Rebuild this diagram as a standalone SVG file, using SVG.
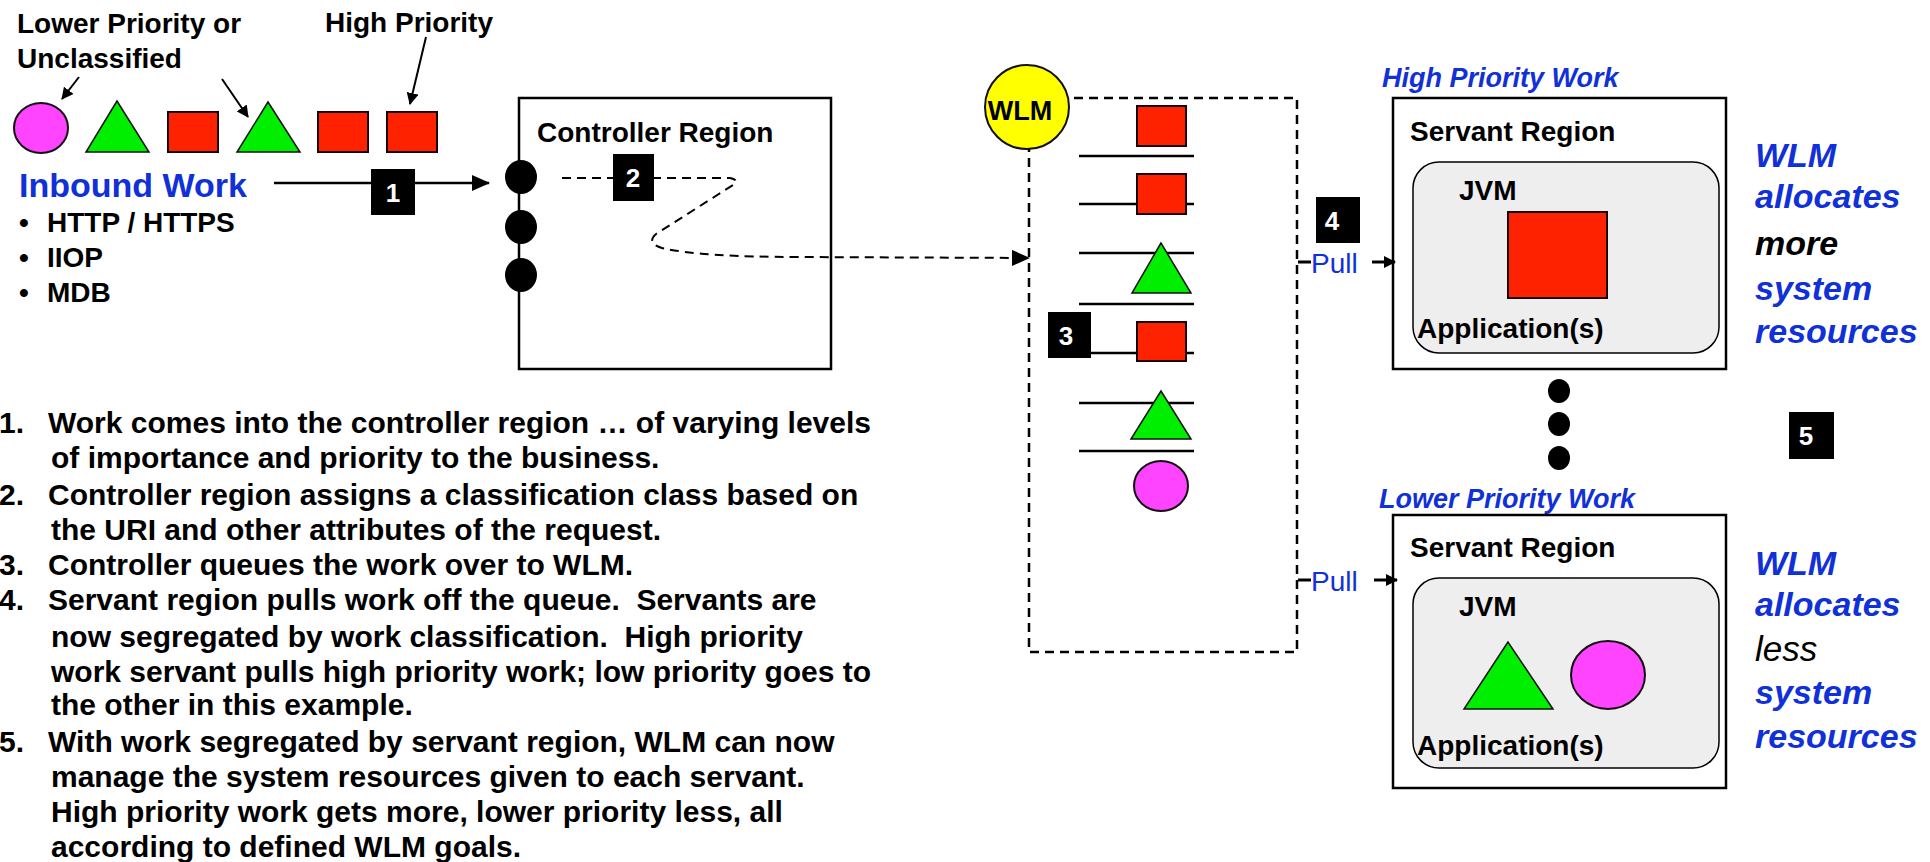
<svg xmlns="http://www.w3.org/2000/svg" width="1930" height="862" viewBox="0 0 1930 862">
  <defs>
    <marker id="arrow" viewBox="0 0 12 12" refX="11" refY="6" markerWidth="12" markerHeight="12" markerUnits="userSpaceOnUse" orient="auto">
      <path d="M0,0 L12,6 L0,12 Z" fill="#000"/>
    </marker>
    <marker id="arrowBig" viewBox="0 0 18 16" refX="17" refY="8" markerWidth="18" markerHeight="16" markerUnits="userSpaceOnUse" orient="auto">
      <path d="M0,0 L18,8 L0,16 Z" fill="#000"/>
    </marker>
  </defs>
  <style>
    text { font-family: "Liberation Sans", Arial, sans-serif; }
    .lbl { font-size: 28px; font-weight: bold; fill: #000; }
    .blue { fill: #1030d8; }
    .bi { font-size: 34px; font-weight: bold; font-style: italic; }
    .work { font-size: 27px; font-weight: bold; font-style: italic; fill: #1030d8; }
    .note { font-size: 30px; font-weight: bold; fill: #000; }
    .num { fill: #000; }
    .numtxt { font-size: 26px; font-weight: bold; fill: #fff; text-anchor: middle; }
    .red { fill: #ff2200; stroke: #1a0000; stroke-width: 2; }
    .green { fill: #00ee00; stroke: #111; stroke-width: 1.5; stroke-linejoin: miter; }
    .pink { fill: #ff44ff; stroke: #111; stroke-width: 2; }
    .box { fill: #fff; stroke: #000; stroke-width: 2.5; }
    .jvm { fill: #eeeeee; stroke: #000; stroke-width: 1.5; }
    .qline { stroke: #000; stroke-width: 2.5; }
    .dot { fill: #000; }
    .pull { font-size: 28px; fill: #1030d8; }
  </style>

  <rect x="0" y="0" width="1930" height="862" fill="#fff"/>

  <!-- inbound work legend -->
  <g id="legend">
    <text class="lbl" x="17" y="33">Lower Priority or</text>
    <text class="lbl" x="17" y="68">Unclassified</text>
    <text class="lbl" x="325" y="32">High Priority</text>
    <ellipse class="pink" cx="41" cy="128" rx="27" ry="25"/>
    <polygon class="green" points="117,101 86,152 149,152"/>
    <rect class="red" x="168" y="112" width="50" height="40"/>
    <polygon class="green" points="268,102 237,152 300,152"/>
    <rect class="red" x="318" y="112" width="50" height="40"/>
    <rect class="red" x="387" y="112" width="50" height="40"/>
    <text class="blue" x="19" y="197" font-size="34" font-weight="bold">Inbound Work</text>
    <text class="lbl" x="19" y="232" font-size="22">•</text>
    <text class="lbl" x="47" y="232">HTTP / HTTPS</text>
    <text class="lbl" x="19" y="267" font-size="22">•</text>
    <text class="lbl" x="47" y="267">IIOP</text>
    <text class="lbl" x="19" y="302" font-size="22">•</text>
    <text class="lbl" x="47" y="302">MDB</text>
  </g>

  <!-- controller region -->
  <g id="controller">
    <rect class="box" x="519" y="98" width="312" height="271"/>
    <text class="lbl" x="537" y="142">Controller Region</text>
    <ellipse class="dot" cx="521" cy="177" rx="16" ry="17"/>
    <ellipse class="dot" cx="521" cy="227" rx="16" ry="17"/>
    <ellipse class="dot" cx="521" cy="275" rx="16" ry="17"/>
  </g>

  <!-- WLM queue -->
  <g id="wlm-queue">
    <rect x="1029" y="98" width="268" height="554" fill="none" stroke="#000" stroke-width="2.5" stroke-dasharray="9 6"/>
    <line class="qline" x1="1079" y1="156" x2="1194" y2="156"/>
    <line class="qline" x1="1079" y1="204" x2="1194" y2="204"/>
    <line class="qline" x1="1079" y1="253" x2="1194" y2="253"/>
    <line class="qline" x1="1079" y1="304" x2="1194" y2="304"/>
    <line class="qline" x1="1079" y1="353" x2="1194" y2="353"/>
    <line class="qline" x1="1079" y1="403" x2="1194" y2="403"/>
    <line class="qline" x1="1079" y1="451" x2="1194" y2="451"/>
    <rect class="red" x="1137" y="106" width="49" height="40"/>
    <rect class="red" x="1137" y="174" width="49" height="40"/>
    <polygon class="green" points="1161,243 1132,293 1191,293"/>
    <rect class="red" x="1137" y="322" width="49" height="39"/>
    <polygon class="green" points="1161,391 1131,439 1191,439"/>
    <ellipse class="pink" cx="1161" cy="486" rx="27" ry="25"/>
    <circle cx="1027" cy="107" r="42" fill="#ffff00" stroke="#111" stroke-width="2"/>
    <text x="1020" y="120" font-size="27" font-weight="bold" text-anchor="middle">WLM</text>
  </g>

  <!-- high priority servant -->
  <g id="servant-high">
    <text class="work" x="1382" y="87">High Priority Work</text>
    <rect class="box" x="1393" y="98" width="333" height="271"/>
    <text class="lbl" x="1410" y="141">Servant Region</text>
    <rect class="jvm" x="1413" y="162" width="306" height="191" rx="26"/>
    <text class="lbl" x="1459" y="200">JVM</text>
    <rect class="red" x="1508" y="212" width="99" height="86"/>
    <text class="lbl" x="1417" y="338">Application(s)</text>
  </g>

  <!-- more servants -->
  <g id="ellipsis">
    <ellipse class="dot" cx="1559" cy="391" rx="11" ry="12"/>
    <ellipse class="dot" cx="1559" cy="424" rx="11" ry="12"/>
    <ellipse class="dot" cx="1559" cy="458" rx="11" ry="12"/>
  </g>

  <!-- lower priority servant -->
  <g id="servant-low">
    <text class="work" x="1379" y="508">Lower Priority Work</text>
    <rect class="box" x="1393" y="515" width="333" height="273"/>
    <text class="lbl" x="1410" y="557">Servant Region</text>
    <rect class="jvm" x="1413" y="578" width="306" height="190" rx="26"/>
    <text class="lbl" x="1459" y="616">JVM</text>
    <polygon class="green" points="1508,642 1464,709 1553,709"/>
    <ellipse class="pink" cx="1608" cy="675" rx="37" ry="34"/>
    <text class="lbl" x="1417" y="755">Application(s)</text>
  </g>

  <!-- resource notes -->
  <g id="note-more">
    <text class="bi blue" x="1755" y="167">WLM</text>
    <text class="bi blue" x="1755" y="208">allocates</text>
    <text class="bi" x="1755" y="255">more</text>
    <text class="bi blue" x="1755" y="300">system</text>
    <text class="bi blue" x="1755" y="343">resources</text>
  </g>
  <g id="note-less">
    <text class="bi blue" x="1755" y="575">WLM</text>
    <text class="bi blue" x="1755" y="616">allocates</text>
    <text x="1755" y="661" font-size="35" font-style="italic">less</text>
    <text class="bi blue" x="1755" y="704">system</text>
    <text class="bi blue" x="1755" y="748">resources</text>
  </g>

  <!-- connectors -->
  <g id="connectors" fill="none" stroke="#000">
    <line x1="79" y1="77" x2="62" y2="99" stroke-width="2" marker-end="url(#arrow)"/>
    <line x1="222" y1="79" x2="248" y2="117" stroke-width="2" marker-end="url(#arrow)"/>
    <line x1="426" y1="37" x2="410" y2="104" stroke-width="2" marker-end="url(#arrow)"/>
    <line x1="274" y1="183" x2="489" y2="183" stroke-width="2.5" marker-end="url(#arrowBig)"/>
    <path d="M562,178 L730,178 Q740,180 733,185 L656,234 Q646,243 662,248 Q700,257 800,257 L1029,258" stroke-width="2" stroke-dasharray="9 6" marker-end="url(#arrowBig)"/>
    <line x1="1298" y1="262" x2="1311" y2="262" stroke-width="3"/>
    <line x1="1372" y1="262" x2="1395" y2="262" stroke-width="3" marker-end="url(#arrow)"/>
    <line x1="1298" y1="580" x2="1311" y2="580" stroke-width="3"/>
    <line x1="1374" y1="580" x2="1397" y2="580" stroke-width="3" marker-end="url(#arrow)"/>
  </g>

  <!-- pull labels -->
  <text class="pull" x="1311" y="273">Pull</text>
  <text class="pull" x="1311" y="591">Pull</text>

  <!-- step badges -->
  <g id="step1"><rect class="num" x="371" y="169" width="44" height="46"/><text class="numtxt" x="393" y="202">1</text></g>
  <g id="step2"><rect class="num" x="613" y="154" width="41" height="47"/><text class="numtxt" x="633" y="187">2</text></g>
  <g id="step3"><rect class="num" x="1048" y="312" width="43" height="46"/><text class="numtxt" x="1066" y="345">3</text></g>
  <g id="step4"><rect class="num" x="1316" y="197" width="44" height="46"/><text class="numtxt" x="1332" y="230">4</text></g>
  <g id="step5"><rect class="num" x="1789" y="412" width="45" height="47"/><text class="numtxt" x="1806" y="445">5</text></g>

  <!-- numbered explanation -->
  <g id="steps-text">
    <text class="note" x="-1" y="433">1.</text>
    <text class="note" x="48" y="433">Work comes into the controller region … of varying levels</text>
    <text class="note" x="51" y="468">of importance and priority to the business.</text>
    <text class="note" x="-1" y="505">2.</text>
    <text class="note" x="48" y="505">Controller region assigns a classification class based on</text>
    <text class="note" x="51" y="540">the URI and other attributes of the request.</text>
    <text class="note" x="-1" y="575">3.</text>
    <text class="note" x="48" y="575">Controller queues the work over to WLM.</text>
    <text class="note" x="-1" y="610">4.</text>
    <text class="note" x="48" y="610" xml:space="preserve">Servant region pulls work off the queue.  Servants are</text>
    <text class="note" x="51" y="647" xml:space="preserve">now segregated by work classification.  High priority</text>
    <text class="note" x="51" y="682">work servant pulls high priority work; low priority goes to</text>
    <text class="note" x="51" y="715">the other in this example.</text>
    <text class="note" x="-1" y="752">5.</text>
    <text class="note" x="48" y="752">With work segregated by servant region, WLM can now</text>
    <text class="note" x="51" y="787">manage the system resources given to each servant.</text>
    <text class="note" x="51" y="822">High priority work gets more, lower priority less, all</text>
    <text class="note" x="51" y="857">according to defined WLM goals.</text>
  </g>
</svg>
